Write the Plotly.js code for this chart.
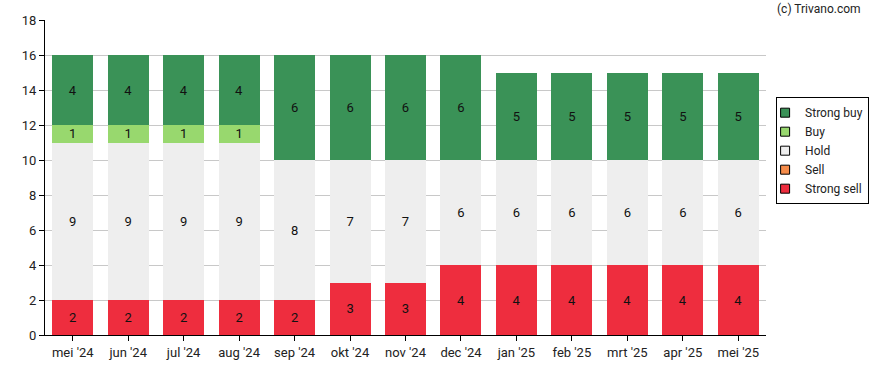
<!DOCTYPE html>
<html>
<head>
<meta charset="utf-8">
<script src="https://cdn.plot.ly/plotly-3.0.1.min.js"></script>
<style>html,body{margin:0;padding:0;background:#fff;}#chart{width:888px;height:370px;}</style>
</head>
<body>
<div id="chart"></div>
<script>
var months = ["mei '24","jun '24","jul '24","aug '24","sep '24","okt '24","nov '24","dec '24","jan '25","feb '25","mrt '25","apr '25","mei '25"];
var strongSell = [2,2,2,2,2,3,3,4,4,4,4,4,4];
var sell       = [0,0,0,0,0,0,0,0,0,0,0,0,0];
var hold       = [9,9,9,9,8,7,7,6,6,6,6,6,6];
var buy        = [1,1,1,1,0,0,0,0,0,0,0,0,0];
var strongBuy  = [4,4,4,4,6,6,6,6,5,5,5,5,5];
var yTicks = [0,2,4,6,8,10,12,14,16,18];

var series = [
  {name:'Strong sell', values:strongSell, color:'#ee2d3e'},
  {name:'Sell', values:sell, color:'#f68c4a'},
  {name:'Hold', values:hold, color:'#eeeeee'},
  {name:'Buy', values:buy, color:'#98d86e'},
  {name:'Strong buy', values:strongBuy, color:'#3a9257'}
];

var traces = [];
series.forEach(function(s){
  traces.push({
    type:'bar', x:months, y:s.values, name:s.name,
    marker:{color:s.color},
    text:s.values.map(function(v){return v ? String(v) : '';}),
    textposition:'inside', insidetextanchor:'middle', constraintext:'none',
    textfont:{family:'Roboto, sans-serif', size:13, color:'#111'},
    textangle:0,
    hoverinfo:'skip', showlegend:false
  });
});
series.slice().reverse().forEach(function(s){
  traces.push({
    type:'scatter', mode:'markers', x:[null], y:[null], name:s.name,
    marker:{symbol:'square', size:9, color:s.color, line:{color:'#000', width:1}},
    showlegend:true, hoverinfo:'skip'
  });
});

var layout = {
  width:888, height:370,
  margin:{l:45, r:122, t:20, b:35},
  barmode:'stack', bargap:0.26,
  uniformtext:{mode:false},
  paper_bgcolor:'#fff', plot_bgcolor:'#fff',
  font:{family:'Roboto, sans-serif', size:13, color:'#222'},
  showlegend:true,
  legend:{x:1.014, xanchor:'left', y:0.755, yanchor:'top',
    bordercolor:'#000', borderwidth:1, bgcolor:'#fff',
    font:{family:'Roboto, sans-serif', size:12, color:'#222'},
    traceorder:'normal', itemwidth:30, tracegroupgap:0, indentation:-12},
  xaxis:{type:'category', showgrid:false, showline:true, linecolor:'#000', linewidth:1,
    ticks:'outside', ticklen:5, tickcolor:'#000', zeroline:false,
    tickfont:{size:13, color:'#222'}},
  yaxis:{range:[0,18], tickvals:yTicks, ticktext:yTicks.map(String),
    showgrid:true, gridcolor:'#c8c8c8', gridwidth:1,
    showline:true, linecolor:'#000', linewidth:1, ticks:'outside', ticklen:5, tickcolor:'#000',
    zeroline:false, tickfont:{size:13, color:'#222'}},
  annotations:[{text:'(c) Trivano.com', xref:'paper', yref:'paper', x:1.135, y:1.0, xanchor:'right', yanchor:'bottom',
    yshift:2, showarrow:false, font:{family:'Roboto, sans-serif', size:12, color:'#222'}}]
};
Plotly.newPlot('chart', traces, layout, {staticPlot:true, displayModeBar:false});
</script>
</body>
</html>
